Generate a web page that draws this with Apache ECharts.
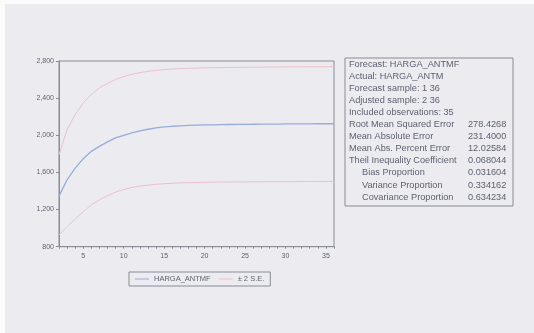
<!DOCTYPE html>
<html><head><meta charset="utf-8">
<script src="https://cdn.jsdelivr.net/npm/echarts@6/dist/echarts.min.js"></script>
<style>html,body{margin:0;padding:0;background:#fbfbfc;}#c{position:absolute;left:5px;top:4px;width:529px;height:329px;}</style>
</head><body><div id="c"></div>
<script>
const periods = [2,3,4,5,6,7,8,9,10,11,12,13,14,15,16,17,18,19,20,21,22,23,24,25,26,27,28,29,30,31,32,33,34,35,36];
const forecast = [1345,1521,1647,1748,1827,1881,1929,1972,2000,2026,2048,2065,2080,2090,2097,2102,2106,2109,2111,2113,2115,2116,2117,2118,2119,2120,2121,2121,2122,2122,2123,2123,2124,2124,2124];
const upperBand = [1790,2062,2224,2350,2440,2512,2559,2602,2631,2656,2674,2689,2699,2708,2714,2718,2721,2724,2726,2728,2729,2730,2731,2732,2733,2734,2735,2736,2736,2737,2737,2738,2738,2738,2739];
const lowerBand = [926,1016,1099,1178,1251,1305,1351,1388,1416,1438,1453,1464,1472,1478,1483,1487,1490,1492,1494,1495,1496,1497,1498,1498,1499,1499,1500,1500,1501,1501,1502,1502,1502,1503,1503];
const yTicks = {min:800, max:2800, interval:400};
const statLabels = ['Forecast: HARGA_ANTMF','Actual: HARGA_ANTM','Forecast sample: 1 36','Adjusted sample: 2 36','Included observations: 35','Root Mean Squared Error','Mean Absolute Error','Mean Abs. Percent Error','Theil Inequality Coefficient','Bias Proportion','Variance Proportion','Covariance Proportion'];
const statValues = ['','','','','','278.4268','231.4000','12.02584','0.068044','0.031604','0.334162','0.634234'];
const statIndent = [0,0,0,0,0,0,0,0,0,1,1,1];

const chart = echarts.init(document.getElementById('c'));
const txtColor = '#5c5f6e';
const ox = 5, oy = 4;
const graphics = [{type:'rect', shape:{x:345-ox, y:58-oy, width:168, height:148}, style:{fill:'none', stroke:'#8a8c96', lineWidth:1}}];
statLabels.forEach((s,i)=>{
  const y = 59.5 - oy + i*12.1;
  graphics.push({type:'text', x:(statIndent[i]?362:349)-ox, y:y, style:{text:s, font:'9.2px "Liberation Sans", Arial, sans-serif', fill:txtColor, textVerticalAlign:'top'}});
  if (statValues[i]) graphics.push({type:'text', x:468-ox, y:y, style:{text:statValues[i], font:'9.2px "Liberation Sans", Arial, sans-serif', fill:txtColor, textVerticalAlign:'top'}});
});
chart.setOption({
  backgroundColor:'#ececf0',
  animation:false,
  textStyle:{fontFamily:'"Liberation Sans", Arial, sans-serif'},
  grid:{left:59-ox, top:61-oy, width:275, height:185.7, show:true, borderColor:'#8a8c96', borderWidth:1, backgroundColor:'transparent'},
  legend:{left:129-ox, top:272-oy, orient:'horizontal', borderColor:'#8a8c96', borderWidth:1, padding:[3,6,3,6], icon:'rect', itemWidth:14, itemHeight:1, itemGap:8,
    textStyle:{fontSize:7.5, color:txtColor, padding:[0,0,0,0]}, data:['HARGA_ANTMF','± 2 S.E.']},
  xAxis:{type:'category', data:periods, boundaryGap:false,
    axisLine:{show:true, lineStyle:{color:'#8a8c96'}},
    axisTick:{show:true, interval:0, length:2, inside:false, lineStyle:{color:'#8a8c96'}},
    axisLabel:{interval:(i,v)=>Number(v)%5===0, fontSize:7, color:txtColor, margin:6},
    splitLine:{show:false}},
  yAxis:{type:'value', min:yTicks.min, max:yTicks.max, interval:yTicks.interval,
    axisLine:{show:true, lineStyle:{color:'#8a8c96'}},
    axisTick:{show:true, length:3, lineStyle:{color:'#8a8c96'}},
    axisLabel:{fontSize:7, color:txtColor, margin:5, formatter:v=>v.toLocaleString('en-US')},
    splitLine:{show:false}},
  series:[
    {name:'HARGA_ANTMF', type:'line', data:forecast, symbol:'none', smooth:false, lineStyle:{color:'#97abdc', width:1.3}, itemStyle:{color:'#97abdc'}},
    {name:'± 2 S.E.', type:'line', data:upperBand, symbol:'none', lineStyle:{color:'#eec0cc', width:1}, itemStyle:{color:'#eec0cc'}},
    {name:'± 2 S.E.', type:'line', data:lowerBand, symbol:'none', lineStyle:{color:'#eec0cc', width:1}, itemStyle:{color:'#eec0cc'}}
  ],
  graphic:graphics
});
</script></body></html>
